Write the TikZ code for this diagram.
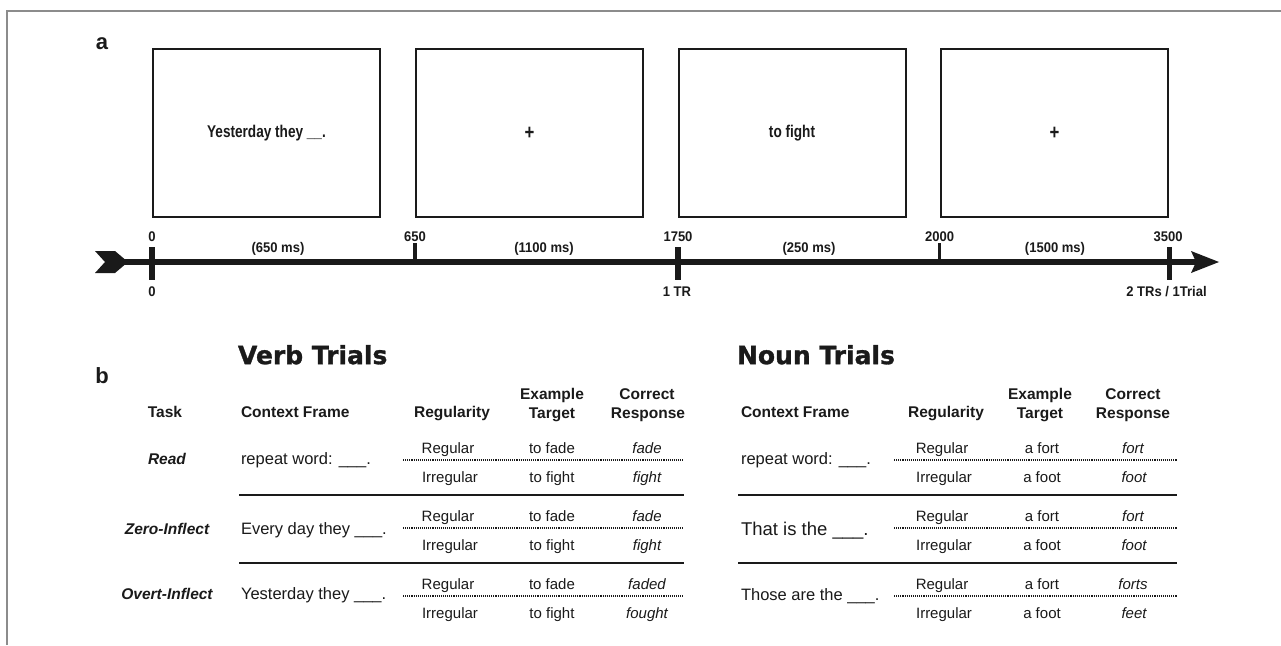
\documentclass[tikz,border=0pt]{standalone}
\usepackage{fontspec}
\setmainfont{Liberation Sans}
\newfontfamily\heavyfont{DejaVu Sans}[FakeBold=1.2]
\newfontfamily\condfont{Liberation Sans}[FakeStretch=0.8]
\newfontfamily\tlfont{Liberation Sans}[FakeStretch=0.93]
\definecolor{ink}{HTML}{1A1A1A}
\definecolor{framegray}{HTML}{8C8C8C}
\begin{document}
\begin{tikzpicture}[x=1pt,y=-1pt,
  every node/.style={inner sep=0pt, outer sep=0pt, text=ink},
  frameline/.style={draw=framegray, line width=1.5pt},
  screen/.style={draw=ink, line width=2pt, minimum width=227pt, minimum height=168pt,
    font=\condfont\fontsize{17}{20}\selectfont\bfseries},
  majortick/.style={draw=ink, line width=5.5pt},
  minortick/.style={draw=ink, line width=3.5pt},
  tl/.style={font=\tlfont\fontsize{14}{16}\selectfont\bfseries, text height=10pt, text depth=0pt},
  panel/.style={font=\fontsize{22}{26}\selectfont\bfseries},
  ttl/.style={font=\heavyfont\fontsize{25}{30}\selectfont\bfseries, text height=18.2pt, text depth=0pt, anchor=west},
  hdr/.style={font=\fontsize{15.5}{18}\selectfont\bfseries, text height=11.1pt, text depth=0pt},
  tasklbl/.style={font=\fontsize{15.5}{18}\selectfont\bfseries\itshape, text height=11.1pt, text depth=0pt},
  ctx/.style={font=\fontsize{16.5}{20}\selectfont, text height=11.8pt, text depth=0pt, anchor=west},
  cell/.style={font=\fontsize{15}{18}\selectfont, text height=10.7pt, text depth=0pt},
  resp/.style={font=\fontsize{15}{18}\selectfont\itshape, text height=10.7pt, text depth=0pt},
  dotrule/.style={draw=ink, line width=1.4pt, dash pattern=on 1.1pt off 1pt},
  solidrule/.style={draw=ink, line width=2.6pt}
]
\useasboundingbox (0,0) rectangle (1281,645);
\fill[white] (0,0) rectangle (1281,645);
% frame
\draw[frameline] (7,645) -- (7,11) -- (1281,11);

% panel a
\node[panel] (pa) at (102,44) {a};
\node[screen] (s1) at (266.5,133) {Yesterday they \_\_.};
\node[screen] (s2) at (529.5,133) {\fontsize{21}{24}\selectfont +};
\node[screen] (s3) at (792,133) {to fight};
\node[screen] (s4) at (1054.5,133) {\fontsize{21}{24}\selectfont +};

% timeline
\coordinate (tail) at (124,262);
\coordinate (head) at (1196,262);
\draw[draw=ink, line width=5.5pt] (tail) -- (head);
\fill[ink] (95,251) -- (115,251) -- (128,262) -- (115,273) -- (95,273) -- (105,262) -- cycle;
\fill[ink] (1191,251) -- (1219,262) -- (1191,273) -- (1196,262) -- cycle;

\coordinate (t0) at (152,262);
\coordinate (t650) at (415,262);
\coordinate (t1750) at (678,262);
\coordinate (t2000) at (939.5,262);
\coordinate (t3500) at (1169.5,262);
\draw[majortick] ([yshift=15pt]t0) -- ([yshift=-18pt]t0);
\draw[majortick] ([yshift=15pt]t1750) -- ([yshift=-18pt]t1750);
\draw[majortick] ([yshift=15pt]t3500) -- ([yshift=-18pt]t3500);
\draw[minortick] ([yshift=19pt]t650) -- (t650);
\draw[minortick] ([yshift=19pt]t2000) -- (t2000);

\node[tl] (l0) at (152,236) {0};
\node[tl] (l650) at (415,236) {650};
\node[tl] (l1750) at (678,236) {1750};
\node[tl] (l2000) at (939.5,236) {2000};
\node[tl] (l3500) at (1168,236) {3500};
\node[tl] (d1) at (278,247) {(650 ms)};
\node[tl] (d2) at (544,247) {(1100 ms)};
\node[tl] (d3) at (809,247) {(250 ms)};
\node[tl] (d4) at (1055,247) {(1500 ms)};
\node[tl] (b0) at (152,291) {0};
\node[tl] (b1) at (677,291) {1 TR};
\node[tl] (b2) at (1166.5,291) {2 TRs / 1Trial};

% panel b
\node[panel] (pb) at (102,376) {b};
\node[ttl] (vt) at (238,355) {Verb Trials};
\node[ttl] (nt) at (737,355) {Noun Trials};

% verb headers
\node[hdr] (vhtask) at (165,412) {Task};
\node[hdr, anchor=west] (vhctx) at (241,412) {Context Frame};
\node[hdr] (vhreg) at (452,412) {Regularity};
\node[hdr] (vhex1) at (552,394) {Example};
\node[hdr] (vhex2) at (552,413) {Target};
\node[hdr] (vhcr1) at (647,394) {Correct};
\node[hdr] (vhcr2) at (648,413) {Response};

% noun headers
\node[hdr, anchor=west] (nhctx) at (741,412) {Context Frame};
\node[hdr] (nhreg) at (946,412) {Regularity};
\node[hdr] (nhex1) at (1040,394) {Example};
\node[hdr] (nhex2) at (1040,413) {Target};
\node[hdr] (nhcr1) at (1133,394) {Correct};
\node[hdr] (nhcr2) at (1133,413) {Response};

% verb rows
\foreach \g/\ty/\tk/\cx/\ra/\rb in {0/459/Read/{repeat word: \_\_\_.}/fade/fight,
    1/529/Zero-Inflect/{Every day they \_\_\_.}/fade/fight,
    2/594/Overt-Inflect/{Yesterday they \_\_\_.}/faded/fought}{
  \pgfmathsetmacro\ya{448+68*\g}
  \pgfmathsetmacro\yd{460+68*\g}
  \pgfmathsetmacro\yb{477+68*\g}
  \node[tasklbl] (vtask\g) at (167,\ty) {\tk};
  \node[ctx] (vctx\g) at (241,\ty) {\cx};
  \node[cell] (vrega\g) at (448,\ya) {Regular};
  \node[cell] (vregb\g) at (450,\yb) {Irregular};
  \node[cell] (vexa\g) at (552,\ya) {to fade};
  \node[cell] (vexb\g) at (552,\yb) {to fight};
  \node[resp] (vra\g) at (647,\ya) {\ra};
  \node[resp] (vrb\g) at (647,\yb) {\rb};
  \draw[dotrule] (403,\yd) -- (683,\yd);
}
\draw[solidrule] (239,495) -- (684,495);
\draw[solidrule] (239,563) -- (684,563);

% noun rows
\foreach \g/\ty/\cx/\ra/\rb in {0/459/{repeat word: \_\_\_.}/fort/foot,
    1/530/{\fontsize{18.5}{22}\selectfont That is the \_\_\_.}/fort/foot,
    2/595/{Those are the \_\_\_.}/forts/feet}{
  \pgfmathsetmacro\ya{448+68*\g}
  \pgfmathsetmacro\yd{460+68*\g}
  \pgfmathsetmacro\yb{477+68*\g}
  \node[ctx] (nctx\g) at (741,\ty) {\cx};
  \node[cell] (nrega\g) at (942,\ya) {Regular};
  \node[cell] (nregb\g) at (944,\yb) {Irregular};
  \node[cell] (nexa\g) at (1042,\ya) {a fort};
  \node[cell] (nexb\g) at (1042,\yb) {a foot};
  \node[resp] (nra\g) at (1133,\ya) {\ra};
  \node[resp] (nrb\g) at (1134,\yb) {\rb};
  \draw[dotrule] (894,\yd) -- (1177,\yd);
}
\draw[solidrule] (738,495) -- (1177,495);
\draw[solidrule] (738,563) -- (1177,563);
\end{tikzpicture}
\end{document}
